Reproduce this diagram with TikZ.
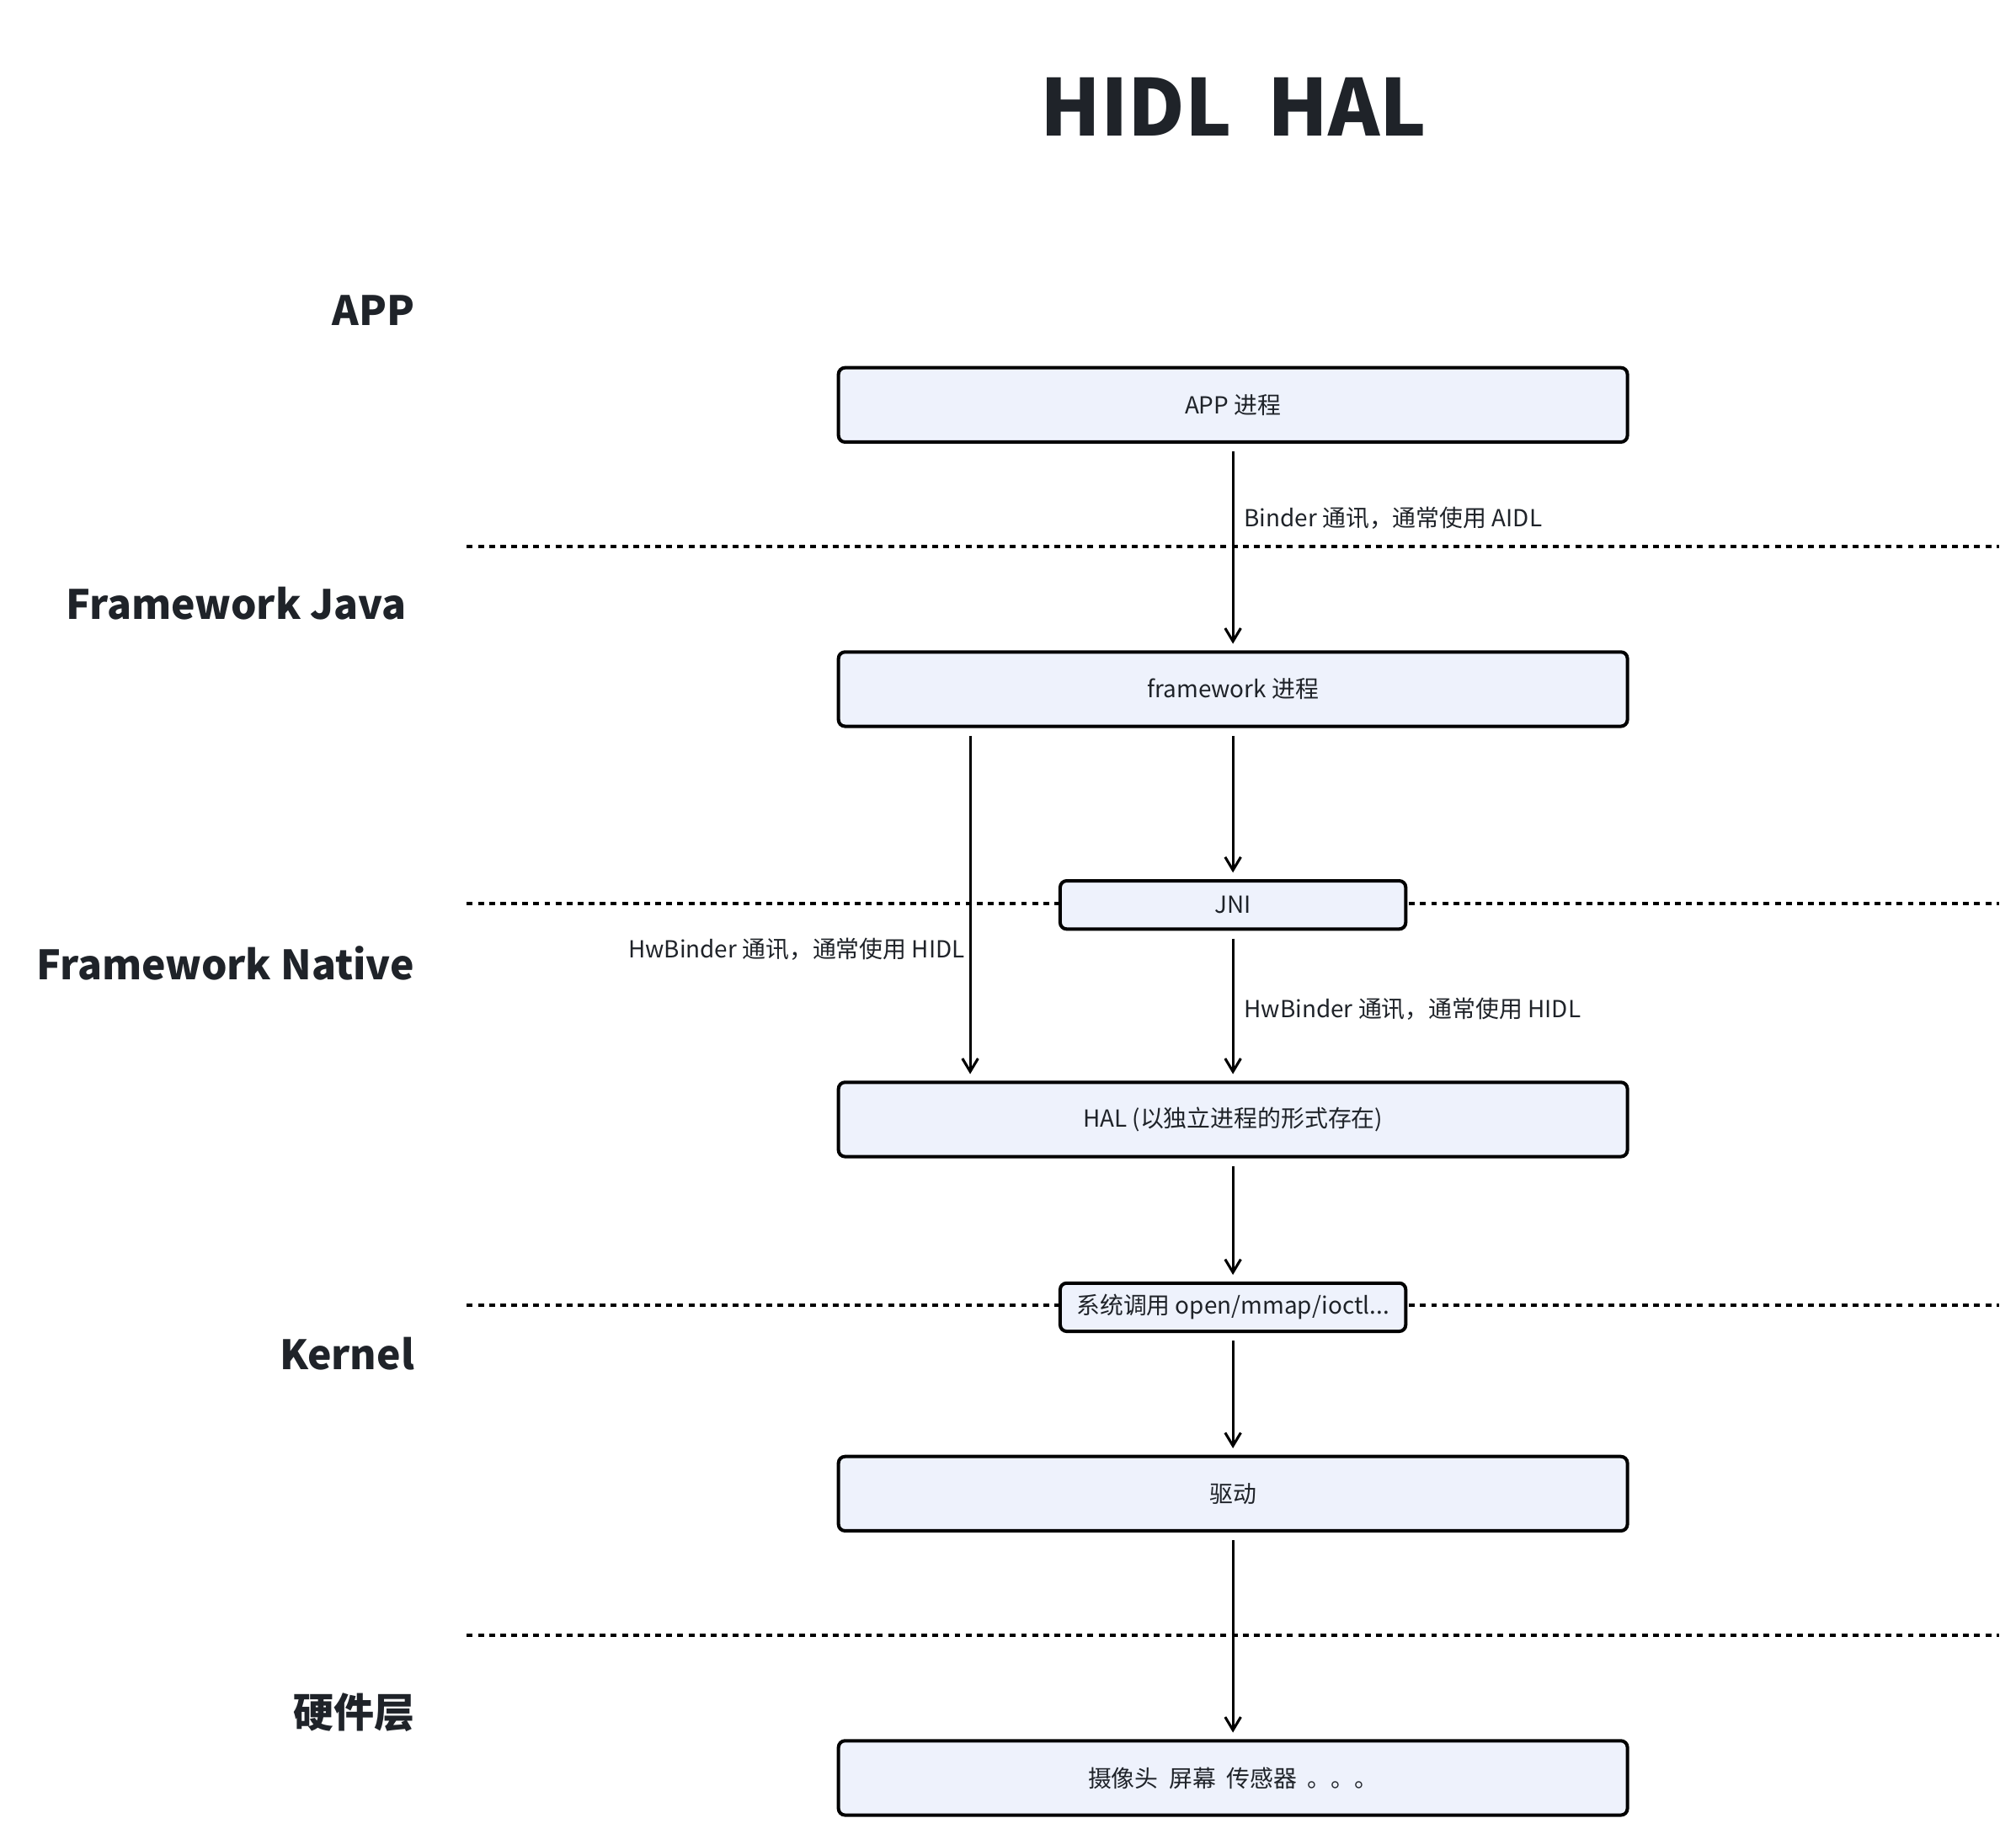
\documentclass[tikz,border=0pt]{standalone}
\usepackage{fontspec}
\setmainfont{Noto Sans CJK SC}
\usetikzlibrary{arrows.meta}
\definecolor{boxfill}{HTML}{EEF2FC}
\definecolor{ink}{HTML}{1F2329}
\begin{document}
\begin{tikzpicture}[x=1pt,y=-1pt,
  bigbox/.style={draw=black,line width=2.6pt,fill=boxfill,rounded corners=5pt,minimum width=605pt,minimum height=57pt,inner sep=0pt,font=\fontsize{18}{20}\selectfont,text=ink},
  smallbox/.style={draw=black,line width=2.6pt,fill=boxfill,rounded corners=5pt,minimum width=265pt,minimum height=37pt,inner sep=0pt,font=\fontsize{18}{20}\selectfont,text=ink},
  layerlabel/.style={anchor=east,inner sep=0pt,font=\bfseries\fontsize{31}{36}\selectfont,text=ink},
  linklabel/.style={inner sep=0pt,font=\fontsize{18}{20}\selectfont,text=ink},
  sep/.style={draw=black,line width=2.4pt,dash pattern=on 4.5pt off 4pt},
  arr/.style={draw=black,line width=2pt,-{Straight Barb[length=10pt,width=12pt,line width=2pt]},shorten <=6pt,shorten >=5pt}]
\useasboundingbox (0,0) rectangle (1546,1406);
\fill[white] (0,0) rectangle (1546,1406);
% title
\node[inner sep=0pt,font=\bfseries\fontsize{60}{64}\selectfont,text=ink] (title) at (946,82) {HIDL\ \ HAL};
% layer labels
\node[layerlabel] (lapp) at (318,238) {APP};
\node[layerlabel] (ljava) at (312,463) {Framework Java};
\node[layerlabel] (lnative) at (318,739) {Framework Native};
\node[layerlabel] (lkernel) at (318,1038) {Kernel};
\node[layerlabel] (lhw) at (318,1313) {硬件层};
% separators
\coordinate (s1a) at (358,419); \coordinate (s1b) at (1533,419);
\coordinate (s2a) at (358,693); \coordinate (s2b) at (1533,693);
\coordinate (s3a) at (358,1001); \coordinate (s3b) at (1533,1001);
\coordinate (s4a) at (358,1254); \coordinate (s4b) at (1533,1254);
\draw[sep] (s1a) -- (s1b);
\draw[sep] (s2a) -- (s2b);
\draw[sep] (s3a) -- (s3b);
\draw[sep] (s4a) -- (s4b);
% boxes
\node[bigbox] (app) at (945.5,310.5) {APP 进程};
\node[bigbox] (fw) at (945.5,528.5) {framework 进程};
\node[smallbox] (jni) at (945.5,694) {JNI};
\node[bigbox] (hal) at (945.5,858.5) {HAL (以独立进程的形式存在)};
\node[smallbox] (sys) at (945.5,1002.5) {系统调用 open/mmap/ioctl...};
\node[bigbox] (drv) at (945.5,1145.5) {驱动};
\node[bigbox] (hw) at (945.5,1363.5) {摄像头\ \ 屏幕\ \ 传感器\ \ 。。。};
% connectors
\draw[arr] (app) -- (fw);
\draw[arr] (fw) -- (jni);
\coordinate (lx) at (744,0);
\draw[arr] (fw.south -| lx) -- (hal.north -| lx);
\draw[arr] (jni) -- (hal);
\draw[arr] (hal) -- (sys);
\draw[arr] (sys) -- (drv);
\draw[arr] (drv) -- (hw);
% connector labels
\node[linklabel,anchor=west] (l1) at (954,397) {Binder 通讯，通常使用 AIDL};
\node[linklabel,anchor=east] (l2) at (740,728) {HwBinder 通讯，通常使用 HIDL};
\node[linklabel,anchor=west] (l3) at (954,774) {HwBinder 通讯，通常使用 HIDL};
\end{tikzpicture}
\end{document}
